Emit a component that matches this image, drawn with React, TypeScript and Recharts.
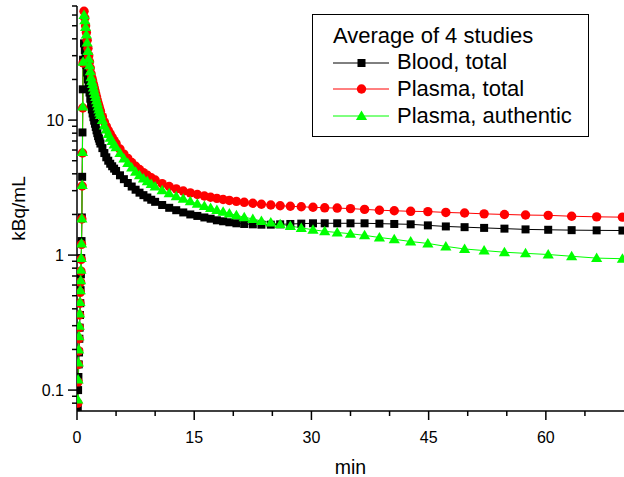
import { Legend, Line, LineChart, XAxis, YAxis } from "recharts";

// sample times, min
const TIMES = [
  0.1, 0.14, 0.18, 0.22, 0.26, 0.3, 0.34, 0.38, 0.42, 0.46, 0.5, 0.54, 0.58, 0.62, 0.66, 0.7, 0.74, 0.78,
  0.9, 1.0, 1.1, 1.2, 1.3, 1.4, 1.5, 1.6, 1.7, 1.8, 1.9, 2.0, 2.1, 2.2, 2.3, 2.4, 2.5, 2.6, 2.7, 2.8, 2.9, 3.0,
  3.25, 3.5, 3.75, 4.0, 4.25, 4.5, 4.75, 5.0,
  5.5, 6, 6.5, 7, 7.5, 8, 8.5, 9, 9.5, 10,
  10.9, 11.8, 12.7, 13.6, 14.5, 15.4, 16.3, 17.1, 17.9, 18.7, 19.5,
  20.4, 21.4, 22.5, 23.6, 24.8, 26.0, 27.3, 28.7, 30.2, 31.7, 33.3, 35.0, 36.8, 38.7, 40.6, 42.7, 44.9,
  47.2, 49.6, 52.1, 54.7, 57.4, 60.3, 63.3, 66.5, 69.8,
];

// kBq/mL
const BLOOD = [
  0.075, 0.1, 0.125, 0.155, 0.19, 0.24, 0.29, 0.36, 0.44, 0.55, 0.72, 0.95, 1.27, 1.9, 3.8, 8.1, 16.9, 28,
  37, 33, 29, 25.5, 22.5, 20, 17.8, 16, 14.4, 13, 12, 11.2, 10.5, 9.9, 9.4, 8.9, 8.4, 8.0, 7.6, 7.3, 7.0, 6.7,
  6.2, 5.7, 5.3, 5.0, 4.75, 4.55, 4.37, 4.2,
  3.9, 3.65, 3.42, 3.22, 3.05, 2.9, 2.78, 2.67, 2.57, 2.48,
  2.35, 2.24, 2.15, 2.07, 2.0, 1.95, 1.9, 1.86, 1.81, 1.78, 1.75,
  1.72, 1.7, 1.69, 1.68, 1.68, 1.69, 1.7, 1.71, 1.72, 1.72, 1.72, 1.72, 1.72, 1.71, 1.7, 1.69, 1.66,
  1.63, 1.61, 1.59, 1.57, 1.55, 1.54, 1.53, 1.525, 1.52,
];

const PLASMA = [
  0.08, 0.115, 0.155, 0.195, 0.24, 0.29, 0.36, 0.44, 0.53, 0.63, 0.76, 0.93, 1.2, 1.85, 3.25, 5.7, 12.3, 26.5,
  64, 57, 50, 44.5, 39, 34, 30, 27, 24.3, 22, 20.6, 19.5, 18.4, 17.4, 16.5, 15.6, 14.8, 14.0, 13.3, 12.7, 12.1, 11.6,
  10.6, 9.7, 9.0, 8.4, 7.9, 7.45, 7.05, 6.7,
  6.1, 5.6, 5.2, 4.85, 4.55, 4.3, 4.08, 3.9, 3.74, 3.6,
  3.38, 3.22, 3.09, 2.98, 2.89, 2.81, 2.74, 2.68, 2.63, 2.58, 2.54,
  2.5, 2.46, 2.42, 2.38, 2.35, 2.32, 2.3, 2.28, 2.26, 2.24, 2.23, 2.21, 2.18, 2.15, 2.13, 2.11, 2.1,
  2.07, 2.05, 2.02, 2.0, 1.98, 1.97, 1.94, 1.92, 1.91,
];

const AUTHENTIC = [
  0.085, 0.12, 0.16, 0.2, 0.25, 0.3, 0.37, 0.45, 0.55, 0.65, 0.78, 0.95, 1.22, 1.87, 3.3, 5.8, 12.6, 27,
  60, 55, 49, 43, 37.5, 32.5, 28.5, 25.5, 23, 20.8, 19.5, 18.5, 17.4, 16.5, 15.6, 14.8, 14.0, 13.3, 12.6, 12.0, 11.4, 10.9,
  10.0, 9.1, 8.5, 7.9, 7.4, 7.0, 6.6, 6.3,
  5.7, 5.2, 4.8, 4.45, 4.15, 3.9, 3.7, 3.52, 3.36, 3.22,
  3.02, 2.87, 2.73, 2.61, 2.5, 2.4, 2.31, 2.23, 2.16, 2.09, 2.03,
  1.97, 1.91, 1.85, 1.79, 1.74, 1.69, 1.64, 1.59, 1.54, 1.5, 1.47, 1.44, 1.4, 1.35, 1.31, 1.26, 1.22,
  1.16, 1.11, 1.08, 1.05, 1.03, 1.01, 0.98, 0.95, 0.94,
];

const X_TICKS = [0, 5, 10, 15, 20, 25, 30, 35, 40, 45, 50, 55, 60, 65];
const X_LABELED = [0, 15, 30, 45, 60];
const Y_TICKS = [
  0.08, 0.09, 0.1, 0.2, 0.3, 0.4, 0.5, 0.6, 0.7, 0.8, 0.9,
  1, 2, 3, 4, 5, 6, 7, 8, 9, 10, 20, 30, 40, 50, 60, 70,
];
const Y_LABELED = [0.1, 1, 10];

const SERIES = [
  { key: "blood", name: "Blood, total", color: "#000000" },
  { key: "plasma", name: "Plasma, total", color: "#ff0000" },
  { key: "authentic", name: "Plasma, authentic", color: "#00ff00" },
];

const data = TIMES.map((t, i) => ({
  t,
  blood: BLOOD[i],
  plasma: PLASMA[i],
  authentic: AUTHENTIC[i],
}));

const FONT = "'Liberation Sans', Arial, sans-serif";

function marker(kind: string, cx: number, cy: number, key?: string | number) {
  if (kind === "blood")
    return <rect key={key} x={cx - 4} y={cy - 4} width={8} height={8} fill="#000" />;
  if (kind === "plasma") return <circle key={key} cx={cx} cy={cy} r={4.7} fill="#ff0000" />;
  return (
    <polygon
      key={key}
      points={`${cx},${cy - 5.5} ${cx + 5.6},${cy + 4} ${cx - 5.6},${cy + 4}`}
      fill="#00ff00"
    />
  );
}

const dotFor = (kind: string) => (p: any) => {
  if (p.cx == null || p.cy == null) return <g key={p.index} />;
  return marker(kind, p.cx, p.cy, `${kind}-${p.index}`);
};

function XTick({ x, y, payload }: any) {
  const major = X_LABELED.includes(payload.value);
  return (
    <g>
      <line x1={x} x2={x} y1={y} y2={y + (major ? 9 : 5)} stroke="#000" strokeWidth={1.5} />
      {major && (
        <text x={x} y={y + 26} textAnchor="middle" dominantBaseline="central" fontSize={16} fontFamily={FONT} fill="#000">
          {payload.value}
        </text>
      )}
    </g>
  );
}

function YTick({ x, y, payload }: any) {
  const major = Y_LABELED.includes(payload.value);
  return (
    <g>
      <line x1={x} x2={x - (major ? 9 : 5)} y1={y} y2={y} stroke="#000" strokeWidth={1.5} />
      {major && (
        <text x={x - 13} y={y} textAnchor="end" dominantBaseline="central" fontSize={16} fontFamily={FONT} fill="#000">
          {String(payload.value)}
        </text>
      )}
    </g>
  );
}

function LegendBox() {
  return (
    <div
      style={{
        width: 277,
        height: 123,
        boxSizing: "border-box",
        border: "1px solid #000",
        background: "#fff",
        fontFamily: FONT,
        fontSize: 22,
        color: "#000",
        paddingTop: 7.5,
      }}
    >
      <div style={{ height: 26.7, lineHeight: "26.7px", paddingLeft: 20, whiteSpace: "nowrap" }}>
        Average of 4 studies
      </div>
      {SERIES.map((s) => (
        <div
          key={s.key}
          style={{ height: 26.7, lineHeight: "26.7px", display: "flex", alignItems: "center", whiteSpace: "nowrap" }}
        >
          <svg width={84} height={16} style={{ flex: "none" }}>
            <line x1={20} x2={76} y1={8} y2={8} stroke={s.color} strokeWidth={1} />
            {marker(s.key, 48.5, 8)}
          </svg>
          <span>{s.name}</span>
        </div>
      ))}
    </div>
  );
}

export default function App() {
  return (
    <div
      style={{
        position: "absolute",
        left: 0,
        top: 0,
        width: 624,
        height: 477,
        overflow: "hidden",
        background: "#fff",
        fontFamily: FONT,
      }}
    >
      <LineChart width={624} height={477} data={data} margin={{ top: 6, right: 0, bottom: 0, left: 0 }}>
        <XAxis
          dataKey="t"
          type="number"
          domain={[0, 70]}
          ticks={X_TICKS}
          interval={0}
          allowDataOverflow
          height={66}
          tickSize={0}
          tickMargin={0}
          tick={<XTick />}
          axisLine={{ stroke: "#000", strokeWidth: 1.5 }}
          label={{ value: "min", position: "insideBottom", offset: 3, fontSize: 19.5, fill: "#000", fontFamily: FONT }}
        />
        <YAxis
          type="number"
          scale="log"
          domain={[0.07, 70]}
          ticks={Y_TICKS}
          interval={0}
          allowDataOverflow
          width={77}
          tickSize={0}
          tickMargin={0}
          tick={<YTick />}
          axisLine={{ stroke: "#000", strokeWidth: 1.5 }}
          label={{
            content: ({ viewBox }: any) => {
              const cx = 18;
              const cy = viewBox.y + viewBox.height / 2;
              return (
                <text
                  x={cx}
                  y={cy}
                  transform={`rotate(-90 ${cx} ${cy})`}
                  textAnchor="middle"
                  dominantBaseline="central"
                  fontSize={19}
                  fontFamily={FONT}
                  fill="#000"
                >
                  kBq/mL
                </text>
              );
            },
          }}
        />
        <Legend
          layout="horizontal"
          verticalAlign="middle"
          align="center"
          content={() => <LegendBox />}
          wrapperStyle={{ top: 14, left: 312, width: 277, height: 123 }}
        />
        {SERIES.map((s) => (
          <Line
            key={s.key}
            dataKey={s.key}
            name={s.name}
            type="linear"
            stroke={s.color}
            strokeWidth={1}
            dot={dotFor(s.key)}
            activeDot={false}
            isAnimationActive={false}
          />
        ))}
      </LineChart>
    </div>
  );
}
